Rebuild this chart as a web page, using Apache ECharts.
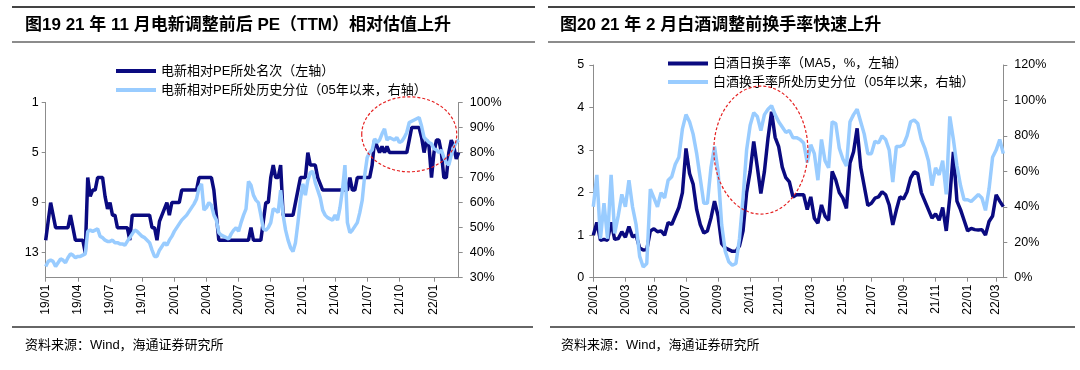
<!DOCTYPE html>
<html><head><meta charset="utf-8">
<script src="https://cdn.jsdelivr.net/npm/echarts@6/dist/echarts.min.js"></script>
<style>html,body{margin:0;padding:0;background:#fff}#c{width:1080px;height:370px}</style>
</head><body><div id="c"></div>
<script>
// ---- data (weekly readings) ----
const leftRank = [12,10.5,9,10,11,11,11,11,11,11,
 10,11,12,12,12,12,13,7,8.5,8,
 8,7,7,7,8.5,9.5,9,10,10,11,
 11,11,11,11,12,10,10,10,10,10,
 10,10,10,11,11,12,10.5,10,9.5,9,
 10,9,9,9,9,8,8,8,8,8,
 8,8,7,7,7,7,7,7,8,10,
 12,12,12,12,12,12,12,12,12,12,
 12,12,12,11,12,12,12,12,10.5,9,
 9,7,6,7,7,6,10,10,10,10,
 10,9,8,7,7,7,5,6,6,6,
 7,7.5,8,8,8,8,8,8,8,8,
 8,8,8,7,8,8,7,7,7,7,
 7,7,6,4,4.5,5,4.5,5,4.5,5,
 5,5,5,5,5,5,5,4,3,3,
 3,3,3.8,5,4,4.5,7,5,4,4,
 5,7,7,5,4,4.5,5.5,5];
const leftPct = [34.5,36.5,37,36.5,34.5,36,37.5,37,36,38,
 39.5,39,38,38.5,38.5,39,39.5,48.5,49,48.5,
 49,49.5,46.5,46,45,44.5,44.5,45,44,44,
 43.5,43.5,43,44.5,46,47.5,49,48.5,47.5,46.5,
 46,45,44,41,38.5,38.5,41,42.5,44,43,
 45,46.5,48.5,50,51.5,53,54,55,56.5,58,
 59.5,61.5,66,67.5,57,58,60,59,55,53,
 48,47,46.5,46,45.5,47.5,49,50,48.5,52,
 55,57.5,68.5,67,63,61,60,55,49.5,49,
 50,52,57.5,57,56,65,55,49,45,42,
 40.5,44,52,61,67.5,63,69,72,72.5,68,
 65,62,57,55,54,53.5,53,55,53,58,
 65,75,52,48,49,50.5,52,56,61,71,
 78,80,81,85.5,84,85,87.5,89.5,85,86,
 85.5,85,86,84,84.5,86,88,92,92.5,93,
 93.5,94,90.5,86,85,84,83.5,81.5,81,80,
 81,78,76,75,79,82,84,85];
const rightTurnover = [1.0,1.3,0.88,0.9,0.88,1.3,0.9,0.92,1.08,0.95,
 1.2,0.96,1.0,0.7,0.65,0.66,1.1,1.15,1.08,1.1,
 1.0,1.3,1.25,1.45,1.65,2.0,3.04,2.45,2.2,1.6,
 1.25,1.05,1.1,1.4,1.8,1.45,0.8,0.7,0.66,0.62,
 0.62,0.75,1.1,2.0,2.5,3.2,2.6,1.98,2.5,3.28,
 3.9,3.3,3.08,2.6,2.35,2.25,1.9,1.95,1.95,1.95,
 1.6,1.9,1.4,1.28,1.71,1.45,1.35,2.5,2.3,2.0,
 1.87,1.63,2.7,2.96,3.51,2.6,2.15,1.7,1.75,1.87,
 1.9,2.02,1.95,1.71,1.24,1.59,1.9,1.85,2.02,2.34,
 2.49,2.45,2.0,1.8,1.6,1.4,1.5,1.35,1.65,1.1,
 1.9,2.96,1.8,1.6,1.35,1.1,1.16,1.13,1.12,1.13,
 1.0,1.32,1.45,1.95,1.8,1.67];
const rightPct = [40,58,22,42,22,58,25,35,47,40,
 55,40,30,12,6,8,50,45,40,48,
 45,55,57,64,68,84,92,88,81,70,
 56,42,42,62,74,60,30,15,9,7,
 8,22,45,72,86,93,91,83,92,95,
 97,92,88,85,82,83,79,79,78,76,
 65,75,70,55,78,66,62,88,87,73,
 67,63,88,92,95,88,81,70,70,77,
 76,80,78,72,54,74,74,75,80,88,
 89,87,78,73,66,52,62,58,66,47,
 91,78,63,52,44,44,43,45,47,45,
 38,50,68,72,78,70];
const leftStart = [2019, 0, 4];
const rightStart = [2020, 0, 3];
const leftRankTicks = [1, 5, 9, 13];
const leftLabelMonths = [1, 4, 7, 10];
const rightLabelMonths = [1, 3, 5, 7, 9, 11];
const leftNames = ['电新相对PE所处名次（左轴）', '电新相对PE所处历史分位（05年以来，右轴）'];
const rightNames = ['白酒日换手率（MA5，%，左轴）', '白酒换手率所处历史分位（05年以来，右轴）'];
const titles = ['图19 21 年 11 月电新调整前后 PE（TTM）相对估值上升', '图20 21 年 2 月白酒调整前换手率快速上升'];
const sourceText = '资料来源：Wind，海通证券研究所';

// ---- helpers ----
function weekly(start, n) {
  const out = [];
  for (let i = 0; i < n; i++) {
    const d = new Date(Date.UTC(start[0], start[1], start[2] + 7 * i));
    out.push(d.toISOString().slice(0, 10));
  }
  return out;
}
const leftDates = weekly(leftStart, leftRank.length);
const rightDates = weekly(rightStart, rightTurnover.length);
function firstWeekOf(months) {
  return function (idx, val) {
    const m = +val.slice(5, 7), d = +val.slice(8, 10);
    return months.indexOf(m) >= 0 && d <= 7;
  };
}
function ym(val) { return val.slice(2, 4) + '/' + val.slice(5, 7); }

const NAVY = '#0a0a80', LIGHT = '#99ccff', AX = '#8c8c8c';
const FONT = '"Liberation Sans", Arial, "Noto Sans CJK SC", sans-serif';
const CJK = '"Liberation Sans", "Noto Sans CJK SC", sans-serif';

function xAxis(grid, dates, months) {
  return {
    type: 'category', gridIndex: grid, data: dates, boundaryGap: false,
    axisLine: { lineStyle: { color: AX, width: 1 } },
    axisTick: { interval: firstWeekOf(months), length: 4, lineStyle: { color: AX } },
    axisLabel: { interval: firstWeekOf(months), rotate: 90, formatter: ym, fontSize: 12, color: '#000', fontFamily: FONT, margin: 7 },
    splitLine: { show: false }
  };
}
function yAxis(grid, pos, extra) {
  return Object.assign({
    type: 'value', gridIndex: grid, position: pos,
    axisLine: { show: true, lineStyle: { color: AX, width: 1 } },
    axisTick: { show: true, length: 4, lineStyle: { color: AX } },
    axisLabel: { fontSize: 12.5, color: '#000', fontFamily: FONT, margin: 8 },
    splitLine: { show: false }
  }, extra);
}

const chart = echarts.init(document.getElementById('c'), null, { renderer: 'canvas' });
const option = {
  animation: false,
  backgroundColor: '#fff',
  grid: [
    { left: 45.7, top: 102.5, width: 413, height: 175.2, outerBoundsMode: 'none', containLabel: false },
    { left: 593.3, top: 65, width: 410, height: 212.7, outerBoundsMode: 'none', containLabel: false }
  ],
  xAxis: [xAxis(0, leftDates, leftLabelMonths), xAxis(1, rightDates, rightLabelMonths)],
  yAxis: [
    yAxis(0, 'left', { inverse: true, min: 1, max: 15,
      axisLabel: { customValues: leftRankTicks, fontSize: 12.5, color: '#000', fontFamily: FONT, margin: 7 },
      axisTick: { show: true, customValues: leftRankTicks, length: 4, lineStyle: { color: AX } } }),
    yAxis(0, 'right', { min: 30, max: 100, interval: 10,
      axisLabel: { formatter: '{value}%', fontSize: 12.5, color: '#000', fontFamily: FONT, margin: 11 } }),
    yAxis(1, 'left', { min: 0, max: 5, interval: 1,
      axisLabel: { fontSize: 12.5, color: '#000', fontFamily: FONT, margin: 9 } }),
    yAxis(1, 'right', { min: 0, max: 120, interval: 20,
      axisLabel: { formatter: '{value}%', fontSize: 12.5, color: '#000', fontFamily: FONT, margin: 11 } })
  ],
  legend: [
    { data: leftNames, orient: 'vertical', left: 116, top: 63.5, padding: 0, itemWidth: 40, itemHeight: 4, icon: 'rect', itemGap: 4,
      textStyle: { fontSize: 13, color: '#000', fontFamily: CJK, lineHeight: 15 } },
    { data: rightNames, orient: 'vertical', left: 668, top: 56, padding: 0, itemWidth: 40, itemHeight: 4, icon: 'rect', itemGap: 3.5,
      textStyle: { fontSize: 13, color: '#000', fontFamily: CJK, lineHeight: 15 } }
  ],
  series: [
    { name: leftNames[0], type: 'line', xAxisIndex: 0, yAxisIndex: 0, data: leftRank, showSymbol: false, symbol: 'none',
      lineStyle: { color: NAVY, width: 3.5 }, itemStyle: { color: NAVY } },
    { name: leftNames[1], type: 'line', xAxisIndex: 0, yAxisIndex: 1, data: leftPct, showSymbol: false, symbol: 'none',
      lineStyle: { color: LIGHT, width: 3.5 }, itemStyle: { color: LIGHT } },
    { name: rightNames[0], type: 'line', xAxisIndex: 1, yAxisIndex: 2, data: rightTurnover, showSymbol: false, symbol: 'none',
      lineStyle: { color: NAVY, width: 3.5 }, itemStyle: { color: NAVY } },
    { name: rightNames[1], type: 'line', xAxisIndex: 1, yAxisIndex: 3, data: rightPct, showSymbol: false, symbol: 'none',
      lineStyle: { color: LIGHT, width: 3.5 }, itemStyle: { color: LIGHT } }
  ]
};
chart.setOption(option);

// annotation ellipses anchored in data space
const lc = [chart.convertToPixel({ xAxisIndex: 0 }, 146.7), chart.convertToPixel({ yAxisIndex: 1 }, 87.3)];
const rc = [chart.convertToPixel({ xAxisIndex: 1 }, 47.3), chart.convertToPixel({ yAxisIndex: 2 }, 3.0)];

function rule(x1, x2, y, color, w) {
  return { type: 'line', shape: { x1: x1, y1: y, x2: x2, y2: y }, style: { stroke: color, lineWidth: w }, silent: true };
}
function text(x, y, t, size, weight) {
  return { type: 'text', x: x, y: y, silent: true,
    style: { text: t, fontSize: size, fontWeight: weight || 'normal', fontFamily: CJK, fill: '#000', verticalAlign: 'middle', align: 'left' } };
}
chart.setOption({
  graphic: [
    rule(12, 535, 7, '#444', 2), rule(548, 1075, 7, '#444', 2),
    rule(12, 535, 42, '#666', 1.5), rule(548, 1075, 42, '#666', 1.5),
    rule(12, 533, 327, '#666', 2), rule(550, 1075, 327, '#666', 2),
    text(25, 25, titles[0], 17, 'bold'), text(560, 25, titles[1], 17, 'bold'),
    text(25, 345, sourceText, 13), text(561, 345, sourceText, 13),
    { type: 'ellipse', shape: { cx: lc[0], cy: lc[1], rx: 47.5, ry: 37.5 }, silent: true, z: 100,
      style: { fill: 'none', stroke: '#e52222', lineWidth: 1.2, lineDash: [3, 2] } },
    { type: 'ellipse', shape: { cx: rc[0], cy: rc[1], rx: 47, ry: 64 }, silent: true, z: 100,
      style: { fill: 'none', stroke: '#e52222', lineWidth: 1.2, lineDash: [3, 2] } }
  ]
});
</script>
</body></html>
